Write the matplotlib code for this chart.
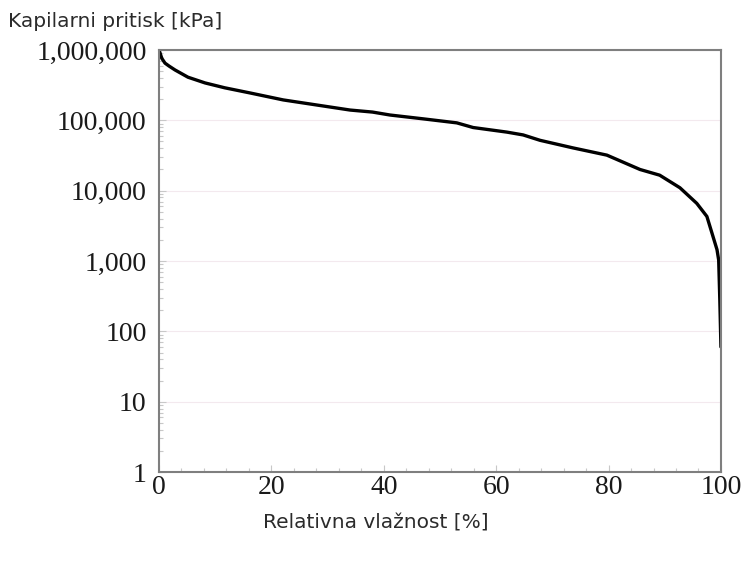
import matplotlib
matplotlib.use("Agg")
import matplotlib.pyplot as plt
from matplotlib.ticker import FixedLocator, FuncFormatter, LogLocator, NullFormatter

# Values
rel_humidity = [0.0, 0.2, 0.5, 1.07, 1.8, 2.85, 5.16, 8.2, 11.7, 16.2, 22.1, 28.1,
                34.0, 38.0, 41.1, 47.0, 53.0, 55.9, 61.9, 64.8, 67.8, 73.7, 79.7,
                85.6, 89.1, 92.7, 95.7, 97.5, 98.4, 99.3, 99.6, 99.8, 100.0]
cap_pressure = [1.0e6, 9.0e5, 7.6e5, 6.5e5, 5.9e5, 5.2e5, 4.1e5, 3.4e5, 2.9e5,
                2.45e5, 1.95e5, 1.65e5, 1.4e5, 1.31e5, 1.19e5, 1.05e5, 9.2e4, 7.9e4,
                6.8e4, 6.2e4, 5.2e4, 4.05e4, 3.2e4, 2.0e4, 1.66e4, 1.1e4, 6.6e3,
                4.3e3, 2.5e3, 1.45e3, 1.03e3, 280, 60]

x_ticks = [0, 20, 40, 60, 80, 100]
y_ticks = [1, 10, 100, 1000, 10000, 100000, 1000000]

fig = plt.figure(figsize=(7.44, 5.66), dpi=100)
ax = fig.add_axes([0.2137, 0.166, 0.7553, 0.7457])

ax.plot(rel_humidity, cap_pressure, color="black", linewidth=2.4,
        solid_capstyle="round", solid_joinstyle="round")

ax.set_yscale("log")
ax.set_xlim(0, 100)
ax.set_ylim(1, 1e6)

ax.yaxis.set_major_locator(FixedLocator(y_ticks))
ax.yaxis.set_major_formatter(FuncFormatter(lambda v, p: f"{int(round(v)):,}"))
ax.yaxis.set_minor_locator(LogLocator(base=10, subs=range(2, 10)))
ax.yaxis.set_minor_formatter(NullFormatter())
ax.set_xticks(x_ticks)
ax.set_xticks(range(0, 101, 4), minor=True)

ax.grid(True, which="major", axis="y", color="#f3e9ee", linewidth=0.8)

for s in ax.spines.values():
    s.set_color("#7f7f7f")
    s.set_linewidth(1.5)

ax.tick_params(axis="both", which="major", direction="in", length=5, width=0.8,
               color="#c8c8c8", labelsize=20)
ax.tick_params(axis="both", which="minor", direction="in", length=3, width=0.8,
               color="#c8c8c8")
ax.tick_params(axis="x", pad=2)
ax.tick_params(axis="y", pad=9)
for lbl in ax.get_xticklabels() + ax.get_yticklabels():
    lbl.set_fontfamily("Liberation Serif")
    lbl.set_color("#1a1a1a")

fig.text(0.011, 0.962, "Kapilarni pritisk [kPa]", fontsize=14.5, color="#2b2b2b",
         family="DejaVu Sans", ha="left", va="center")
fig.text(0.505, 0.076, "Relativna vlažnost [%]", fontsize=14.5, color="#2b2b2b",
         family="DejaVu Sans", ha="center", va="center")

fig.savefig("out.png", dpi=100)
